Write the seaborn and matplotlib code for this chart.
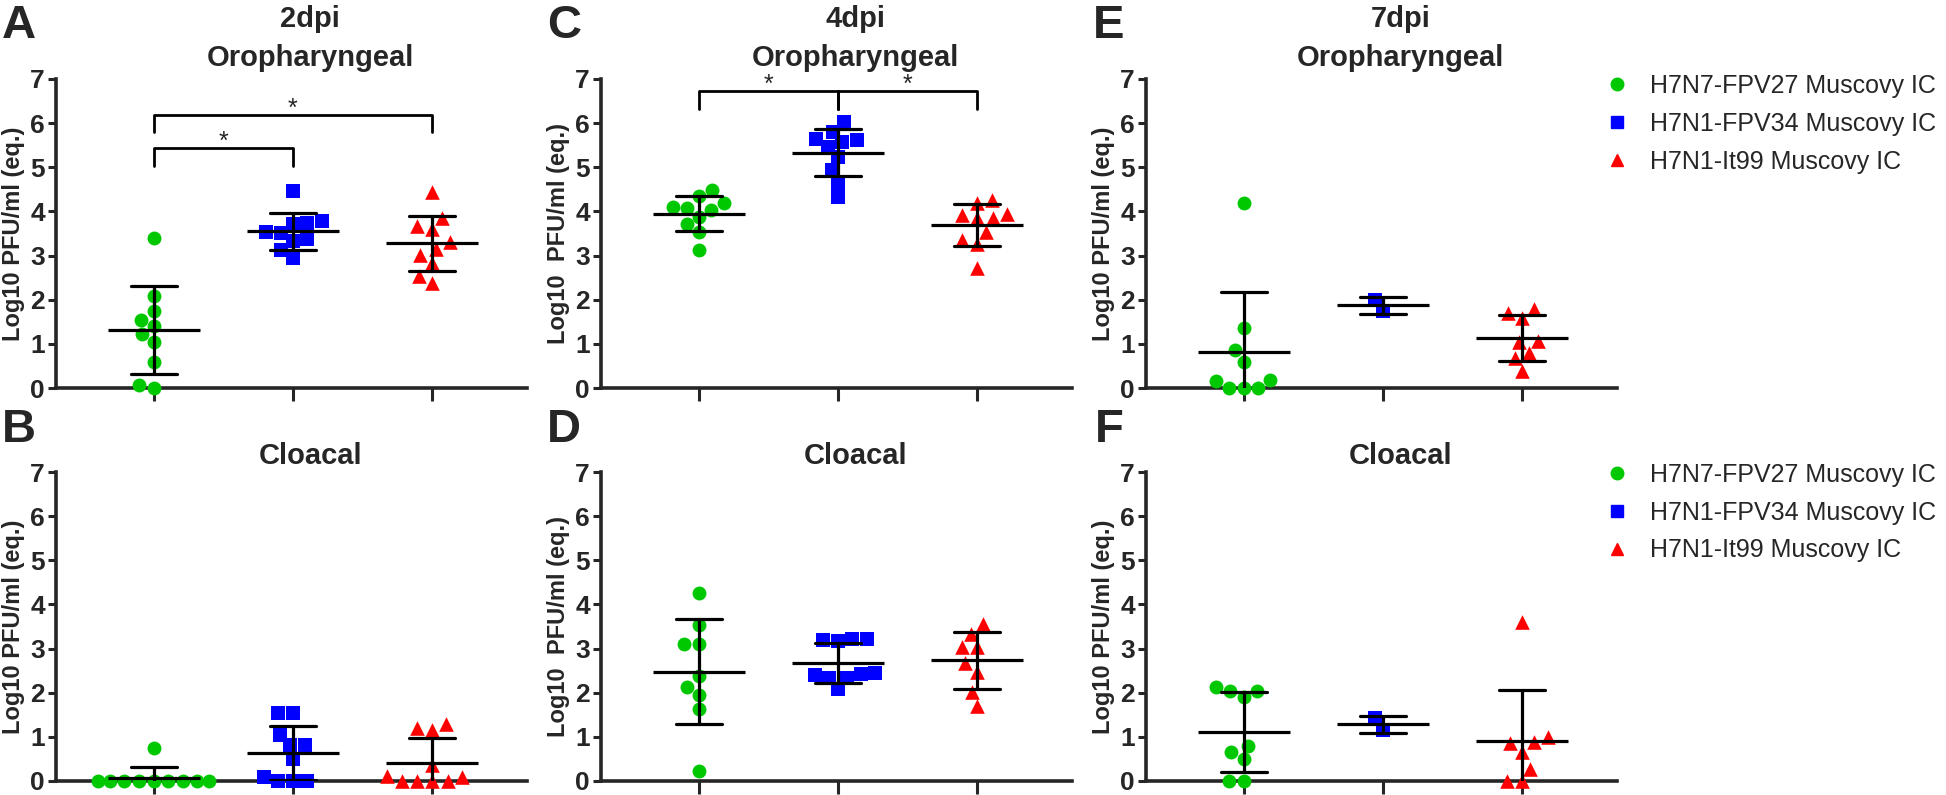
import numpy as np
import pandas as pd
import matplotlib
matplotlib.use("Agg")
import matplotlib.pyplot as plt
from matplotlib.lines import Line2D
import seaborn as sns
import warnings

warnings.filterwarnings("ignore")

# Groups / legend
groups = ["H7N7-FPV27 Muscovy IC", "H7N1-FPV34 Muscovy IC", "H7N1-It99 Muscovy IC"]
colors = ["#00c800", "#0000ff", "#ff0000"]
markers = ["o", "s", "^"]

# Log10 PFU/ml (eq.) per bird
# 2 dpi
oro_2dpi_fpv27 = [3.40, 2.08, 1.74, 1.55, 1.40, 1.23, 1.04, 0.60, 0.07, 0.0]
oro_2dpi_fpv34 = [4.46, 3.78, 3.72, 3.74, 3.51, 3.53, 3.34, 3.38, 3.12, 2.95]
oro_2dpi_it99 = [4.43, 3.85, 3.66, 3.60, 3.30, 3.15, 3.02, 2.83, 2.53, 2.38]
clo_2dpi_fpv27 = [0.75, 0, 0, 0, 0, 0, 0, 0, 0, 0]
clo_2dpi_fpv34 = [1.54, 1.54, 1.04, 0.81, 0.81, 0.50, 0, 0, 0, 0.08]
clo_2dpi_it99 = [1.19, 1.15, 1.28, 0.36, 0.08, 0, 0, 0, 0, 0.12]
# 4 dpi
oro_4dpi_fpv27 = [4.49, 4.35, 4.20, 4.08, 4.10, 4.03, 3.88, 3.72, 3.54, 3.12]
oro_4dpi_fpv34 = [6.02, 5.81, 5.61, 5.57, 5.64, 5.47, 5.23, 4.94, 4.65, 4.33]
oro_4dpi_it99 = [4.20, 4.25, 3.95, 3.91, 3.85, 3.86, 3.54, 3.35, 3.27, 2.71]
clo_4dpi_fpv27 = [4.25, 3.53, 3.11, 3.10, 2.38, 2.13, 1.94, 1.62, 0.23]
clo_4dpi_fpv34 = [3.22, 3.19, 3.17, 3.21, 2.43, 2.34, 2.34, 2.39, 2.44, 2.09]
clo_4dpi_it99 = [3.55, 3.34, 3.04, 3.04, 2.68, 2.47, 2.02, 1.71]
# 7 dpi
oro_7dpi_fpv27 = [4.20, 1.35, 0.85, 0.59, 0.17, 0, 0, 0, 0.15]
oro_7dpi_fpv34 = [2.00, 1.74]
oro_7dpi_it99 = [1.79, 1.70, 1.59, 1.06, 1.04, 0.79, 0.68, 0.39]
clo_7dpi_fpv27 = [2.04, 1.91, 2.04, 2.12, 0.79, 0.66, 0.49, 0, 0]
clo_7dpi_fpv34 = [1.42, 1.15]
clo_7dpi_it99 = [3.60, 1.00, 0.86, 0.88, 0.66, 0.28, 0, 0]

# significance brackets: (group a, group b, height)
brackets_2dpi = [(0, 1, 5.44), (0, 2, 6.19)]
brackets_4dpi = [(0, 1, 6.72), (1, 2, 6.72)]

panels = [
    ("A", "2dpi", "Oropharyngeal", [oro_2dpi_fpv27, oro_2dpi_fpv34, oro_2dpi_it99], brackets_2dpi, 0, 0),
    ("B", None, "Cloacal", [clo_2dpi_fpv27, clo_2dpi_fpv34, clo_2dpi_it99], [], 1, 0),
    ("C", "4dpi", "Oropharyngeal", [oro_4dpi_fpv27, oro_4dpi_fpv34, oro_4dpi_it99], brackets_4dpi, 0, 1),
    ("D", None, "Cloacal", [clo_4dpi_fpv27, clo_4dpi_fpv34, clo_4dpi_it99], [], 1, 1),
    ("E", "7dpi", "Oropharyngeal", [oro_7dpi_fpv27, oro_7dpi_fpv34, oro_7dpi_it99], [], 0, 2),
    ("F", None, "Cloacal", [clo_7dpi_fpv27, clo_7dpi_fpv34, clo_7dpi_it99], [], 1, 2),
]

sns.set_style("ticks")
plt.rcParams["font.family"] = ["Liberation Sans", "DejaVu Sans"]

W, H = 1946, 795
fig = plt.figure(figsize=(W / 100, H / 100), dpi=100)

col_left = [56, 601, 1146]
ax_w = 471
row_top = [79, 472]
row_h = [309, 309]
title_y = [58, 456]
letter_y = [26, 430]

for letter, day, site, values, brackets, r, c in panels:
    ax = fig.add_axes([col_left[c] / W, 1 - (row_top[r] + row_h[r]) / H, ax_w / W, row_h[r] / H])
    df = pd.DataFrame({
        "group": np.concatenate([[g] * len(v) for g, v in zip(groups, values)]),
        "value": np.concatenate(values),
    })
    for g, col, m in zip(groups, colors, markers):
        sns.swarmplot(data=df[df["group"] == g], x="group", y="value", order=groups,
                      color=col, marker=m, size=10.5 if m == "^" else 10, linewidth=0, ax=ax)
    for coll in ax.collections:
        coll.set_clip_on(False)
    # mean +/- SD
    sns.pointplot(data=df, x="group", y="value", order=groups, errorbar="sd",
                  color="black", markers="_", linestyles="none", capsize=0.33,
                  markersize=66, markeredgewidth=2.3, linewidth=2.3,
                  err_kws={"linewidth": 2.3, "zorder": 5}, zorder=5, ax=ax)

    for a, b, h in brackets:
        ax.plot([a, a, b, b], [h - 0.4, h, h, h - 0.4], color="black", lw=2.0, clip_on=False)
        ax.text((a + b) / 2, h + 0.14, "*", ha="center", va="center", fontsize=18)
    if letter == "C":
        ax.plot([1, 1], [6.32, 6.72], color="black", lw=2.0, clip_on=False)

    ax.set_xlim(-0.7, 2.68)
    ax.set_ylim(0, 7)
    ax.set_yticks(range(8))
    ax.set_xticks([0, 1, 2])
    ax.set_xticklabels([])
    ax.set_xlabel("")
    ylab = "Log10  PFU/ml (eq.)" if letter in "CD" else "Log10 PFU/ml (eq.)"
    ax.set_ylabel(ylab, fontsize=17, fontweight="bold", labelpad=4)
    for lab in ax.get_yticklabels():
        lab.set_fontweight("bold")
    ax.tick_params(axis="y", labelsize=19, width=2.2, length=6, pad=2)
    ax.tick_params(axis="x", width=2.2, length=9)
    sns.despine(ax=ax)
    for s in ["left", "bottom"]:
        ax.spines[s].set_linewidth(2.6)

    ax.text(0.54, 1 + (row_top[r] - title_y[r]) / row_h[r], site,
            transform=ax.transAxes, ha="center", va="center", fontsize=21, fontweight="bold")
    if day:
        ax.text(0.54, 1 + (row_top[r] - 19) / row_h[r], day,
                transform=ax.transAxes, ha="center", va="center", fontsize=21, fontweight="bold")
    fig.text((col_left[c] - 37) / W, 1 - letter_y[r] / H, letter,
             ha="center", va="center", fontsize=34, fontweight="bold")

handles = [Line2D([], [], linestyle="none", marker=m, color=col, markersize=9)
           for m, col in zip(markers, colors)]
for top in [74, 463]:
    fig.legend(handles, groups, loc="upper left", bbox_to_anchor=(1604 / W, 1 - top / H),
               frameon=False, fontsize=18, handlelength=1.0, handletextpad=0.85,
               labelspacing=0.55, borderaxespad=0, borderpad=0)

fig.savefig("out.png", dpi=100)
